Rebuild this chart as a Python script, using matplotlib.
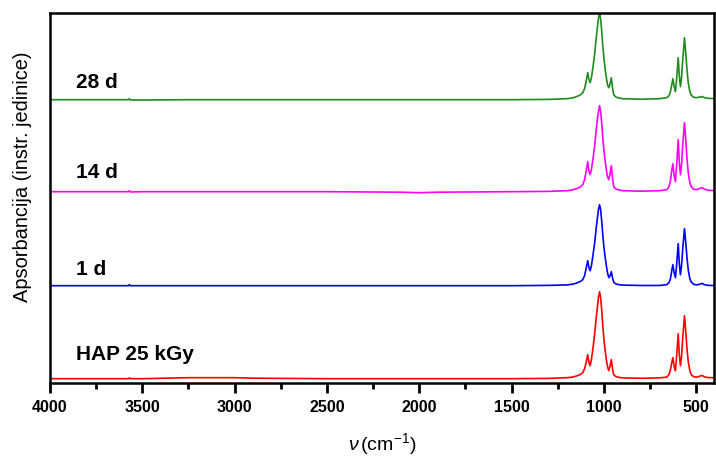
import numpy as np
import matplotlib.pyplot as plt
from matplotlib.ticker import MultipleLocator

plt.rcParams['font.family'] = ['Liberation Sans', 'DejaVu Sans']
plt.rcParams['mathtext.fontset'] = 'custom'
plt.rcParams['mathtext.rm'] = 'Liberation Sans'
plt.rcParams['mathtext.it'] = 'Liberation Sans:italic'

# wavenumbers (cm-1), shared by all spectra
wn = [4000, 3800, 3600, 3575, 3570, 3565, 3500, 3250, 3000, 2900, 2500, 2100, 2000, 1900,
      1500, 1300, 1200, 1170, 1150, 1130, 1115, 1105, 1097, 1088, 1081, 1075, 1068, 1060,
      1051, 1043, 1036, 1030, 1024, 1018, 1012, 1006, 1000, 994, 988, 981, 974, 967, 960,
      954, 947, 938, 925, 900, 800, 700, 660, 648, 640, 633, 627, 620, 613, 606, 598, 592,
      586, 580, 573, 564, 557, 550, 543, 535, 527, 515, 500, 485, 470, 455, 440, 420, 400]

# absorbance (arbitrary units above each baseline)
hap = [0, 0, 0, 0, 0.8, 0, 0, 1, 1, 0.5, 0, 0, 0, 0,
       0, 0.3, 1, 1.6, 2.6, 4, 6, 10, 16, 24, 16, 13, 19, 30,
       44, 59, 71, 81, 87, 81, 68, 52, 39, 29, 20, 12, 8, 13, 19,
       10, 4, 2.5, 1.5, 0.8, 0.4, 0.8, 1.5, 4, 9, 16, 21, 12, 8, 24, 45, 24,
       13, 22, 42, 63, 47, 29, 16, 8, 4, 2, 1.5, 2.2, 3.3, 1.8, 1.2, 1, 1]
d1 = [0, 0, 0, 0, 1, 0, 0, 0, 0, 0, 0, 0, 0, 0,
      0, 0.3, 0.8, 1.5, 2.5, 4, 6, 10, 17, 25, 18, 15, 20, 30,
      42, 56, 67, 76, 81, 76, 64, 50, 38, 29, 21, 13, 8, 10, 14,
      8, 3.5, 2, 1.2, 0.6, 0.2, 0.2, 1, 3, 7, 15, 21, 13, 8, 22, 42, 22,
      11, 20, 38, 57, 43, 27, 15, 7, 3.5, 1.5, 0.8, 1.2, 2.3, 1, 0.4, 0.2, 0.2]
d14 = [0, 0, 0, 0, 1, -0.3, 0, 0, 0, 0, 0, -0.5, -1, -0.5,
       0, 0.3, 1, 1.8, 3, 4.5, 7, 12, 20, 30, 20, 17, 22, 32,
       45, 60, 72, 80, 86, 80, 68, 53, 41, 31, 23, 15, 12, 18, 26,
       14, 5, 3, 2, 1, 0.5, 1, 2, 5, 11, 21, 28, 16, 10, 28, 52, 29,
       17, 27, 48, 69, 52, 32, 18, 9, 5, 2.5, 2, 3, 4, 2.5, 1.5, 1.2, 1.2]
d28 = [0, 0, 0, 0, 1, -0.3, -0.3, 0, 0, 0, 0, 0, 0, 0,
       0, 0.3, 1, 1.8, 3, 4.5, 7, 11, 18, 27, 20, 17, 22, 32,
       45, 60, 72, 81, 87, 81, 68, 53, 41, 31, 23, 15, 12, 16, 22,
       12, 5, 3, 2, 1, 0.5, 1, 2, 4, 8, 15, 21, 13, 8, 22, 42, 24,
       13, 22, 41, 62, 46, 29, 16, 8, 4.5, 2.5, 2, 2.5, 3.2, 2, 1.5, 1.2, 1.2]

labels = ['HAP 25 kGy', '1 d', '14 d', '28 d']
colors = ['#ff0000', '#0000ff', '#ff00ff', '#1e8c1e']
offsets = [4.3, 97.3, 191.3, 283.3]
label_y = [23, 108, 205, 295]

fig = plt.figure(figsize=(7.16, 4.58), dpi=100)
ax = fig.add_axes([0.0698, 0.1638, 0.9272, 0.8078])

for spec, lab, c, off, ly in zip([hap, d1, d14, d28], labels, colors, offsets, label_y):
    ax.plot(wn, np.array(spec) + off, color=c, lw=1.2)
    ax.text(3858, ly, lab, fontsize=15, fontweight='bold', ha='left', va='baseline')

ax.set_xlim(4000, 405)
ax.set_ylim(0, 370)
ax.xaxis.set_major_locator(MultipleLocator(500))
ax.xaxis.set_minor_locator(MultipleLocator(250))
ax.tick_params(axis='x', which='major', direction='out', length=7.5, width=2,
               labelsize=11.5, pad=5)
ax.tick_params(axis='x', which='minor', direction='out', length=4.5, width=2)
ax.tick_params(axis='y', left=False, labelleft=False)
for lbl in ax.get_xticklabels():
    lbl.set_fontweight('bold')
for s in ax.spines.values():
    s.set_linewidth(1.8)

ax.set_xlabel(r'$\nu\,$(cm$^{-1}$)', fontsize=14, labelpad=11)
ax.set_ylabel('Apsorbancija (instr. jedinice)', fontsize=14.4)
ax.yaxis.set_label_coords(-0.027, 0.557)

plt.savefig('out.png')
